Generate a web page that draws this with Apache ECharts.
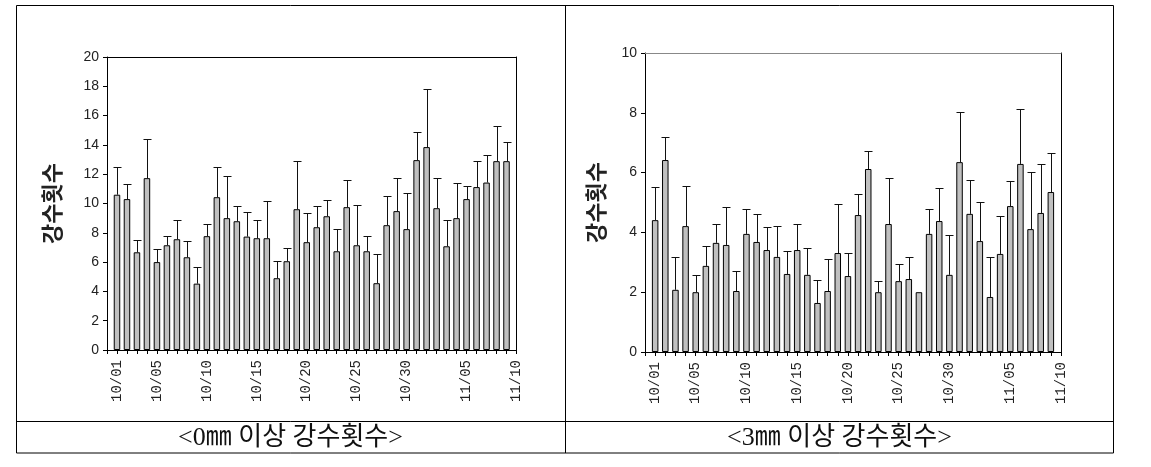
<!DOCTYPE html>
<html><head><meta charset="utf-8">
<script src="https://cdn.jsdelivr.net/npm/echarts@6/dist/echarts.min.js"></script>
<style>html,body{margin:0;padding:0;background:#fff}#c{width:1151px;height:467px}</style>
</head><body><div id="c"></div>
<script>
// ---- data ----
const dates = ['10/01','10/02','10/03','10/04','10/05','10/06','10/07','10/08','10/09','10/10',
  '10/11','10/12','10/13','10/14','10/15','10/16','10/17','10/18','10/19','10/20',
  '10/21','10/22','10/23','10/24','10/25','10/26','10/27','10/28','10/29','10/30',
  '10/31','11/01','11/02','11/03','11/04','11/05','11/06','11/07','11/08','11/09'];
const axisEnd = '11/10';
const tickLabels = ['10/01','10/05','10/10','10/15','10/20','10/25','10/30','11/05','11/10'];

// 0mm 이상 강수횟수 (mean, upper end of error bar)
const mean0 = [10.6,10.3,6.67,11.73,6.0,7.15,7.56,6.33,4.53,7.77,
  10.43,9.0,8.79,7.74,7.63,7.63,4.9,6.06,9.61,7.36,
  8.38,9.13,6.74,9.75,7.15,6.74,4.56,8.52,9.48,8.25,
  12.96,13.85,9.68,7.08,9.0,10.3,11.12,11.43,12.89,12.89];
const upper0 = [12.5,11.3,7.5,14.4,6.9,7.75,8.86,7.43,5.65,8.59,
  12.48,11.87,9.82,9.41,8.86,10.16,6.06,6.95,12.89,9.34,
  9.82,10.23,8.25,11.6,9.89,7.77,6.54,10.5,11.73,10.7,
  14.87,17.81,11.73,8.86,11.39,11.18,12.89,13.3,15.28,14.19];

// 3mm 이상 강수횟수
const mean3 = [4.41,6.42,2.08,4.21,2.0,2.88,3.65,3.58,2.04,3.95,
  3.68,3.41,3.18,2.61,3.41,2.58,1.64,2.04,3.31,2.54,
  4.58,6.12,2.0,4.28,2.37,2.44,2.0,3.95,4.38,2.58,
  6.35,4.62,3.71,1.84,3.28,4.88,6.29,4.11,4.65,5.35];
const upper3 = [5.53,7.18,3.18,5.54,2.58,3.55,4.28,4.85,2.71,4.78,
  4.62,4.18,4.21,3.38,4.28,3.48,2.41,3.11,4.95,3.31,
  5.28,6.72,2.37,5.82,2.94,3.18,2.0,4.78,5.48,3.91,
  8.03,5.75,5.02,3.18,4.55,5.72,8.13,6.02,6.29,6.66];

const yRange0 = {min: 0, max: 20, interval: 2};
const yRange3 = {min: 0, max: 10, interval: 2};
const yName = '강수횟수';
const titles = ['<0㎜ 이상 강수횟수>', '<3㎜ 이상 강수횟수>'];

// ---- chart ----
const cats = [''].concat(dates, [axisEnd]);
const chart = echarts.init(document.getElementById('c'), null, {renderer: 'canvas'});

function bottomAxis(gi) {
  return {
    type: 'category', gridIndex: gi, data: cats, boundaryGap: false, position: 'bottom',
    axisLine: {show: true, onZero: false, lineStyle: {color: '#000', width: 1}},
    axisTick: {show: true, interval: 0, length: 4, lineStyle: {color: '#000'}},
    axisLabel: {
      interval: (idx, val) => tickLabels.indexOf(val) >= 0,
      rotate: 90, margin: 10, fontFamily: 'Liberation Mono', fontSize: 14, color: '#222'
    },
    splitLine: {show: false}
  };
}
function topAxis(gi, color) {
  return {
    type: 'category', gridIndex: gi, data: cats, boundaryGap: false, position: 'top',
    axisLine: {show: true, onZero: false, lineStyle: {color: color, width: 1}},
    axisTick: {show: false}, axisLabel: {show: false}, splitLine: {show: false}
  };
}
function leftAxis(gi, r, gap) {
  return {
    type: 'value', gridIndex: gi, min: r.min, max: r.max, interval: r.interval, position: 'left',
    axisLine: {show: true, onZero: false, lineStyle: {color: '#000', width: 1}},
    axisTick: {show: true, length: 4, lineStyle: {color: '#000'}},
    axisLabel: {fontFamily: 'Liberation Sans', fontSize: 14, color: '#222', margin: 8},
    splitLine: {show: false},
    name: yName, nameLocation: 'middle', nameGap: gap,
    nameTextStyle: {fontFamily: 'Noto Sans CJK KR', fontSize: 22, fontWeight: 'bold', color: '#222'}
  };
}
function rightAxis(gi, r) {
  return {
    type: 'value', gridIndex: gi, min: r.min, max: r.max, interval: r.interval, position: 'right',
    axisLine: {show: true, onZero: false, lineStyle: {color: '#000', width: 1}},
    axisTick: {show: false}, axisLabel: {show: false}, splitLine: {show: false}
  };
}
function errRender(params, api) {
  const x = api.value(0), lo = api.value(1), hi = api.value(2);
  if (!(hi > lo)) return null;
  const p0 = api.coord([x, lo]);
  const p1 = api.coord([x, hi]);
  const cx = Math.round(p0[0]) + 0.5;
  const ty = Math.round(p1[1]) + 0.5;
  return {
    type: 'group', children: [
      {type: 'line', shape: {x1: cx, y1: p0[1], x2: cx, y2: ty}, style: {stroke: '#111', lineWidth: 1}},
      {type: 'line', shape: {x1: cx - 4, y1: ty, x2: cx + 4, y2: ty}, style: {stroke: '#111', lineWidth: 1}}
    ]
  };
}
function barData(m) { return [null].concat(m, [null]); }
function errData(m, u) { return m.map((v, i) => [i + 1, v, u[i]]); }

const titleFont = '26px "Liberation Serif", "Noto Sans CJK KR"';
const option = {
  animation: false,
  backgroundColor: '#fff',
  grid: [
    {left: 107, top: 57, width: 409.5, height: 293},
    {left: 645, top: 53, width: 416, height: 299}
  ],
  xAxis: [bottomAxis(0), bottomAxis(1), topAxis(0, '#000'), topAxis(1, '#888')],
  yAxis: [leftAxis(0, yRange0, 44), leftAxis(1, yRange3, 38), rightAxis(0, yRange0), rightAxis(1, yRange3)],
  series: [
    {type: 'bar', xAxisIndex: 0, yAxisIndex: 0, data: barData(mean0), barWidth: 6.5,
      itemStyle: {color: '#c0c0c0', borderColor: '#000', borderWidth: 1}},
    {type: 'bar', xAxisIndex: 1, yAxisIndex: 1, data: barData(mean3), barWidth: 6.5,
      itemStyle: {color: '#c0c0c0', borderColor: '#000', borderWidth: 1}},
    {type: 'custom', xAxisIndex: 0, yAxisIndex: 0, data: errData(mean0, upper0), renderItem: errRender, z: 5},
    {type: 'custom', xAxisIndex: 1, yAxisIndex: 1, data: errData(mean3, upper3), renderItem: errRender, z: 5}
  ],
  graphic: [
    {type: 'rect', shape: {x: 16.5, y: 5.5, width: 1097, height: 447.5}, style: {fill: null, stroke: '#000', lineWidth: 1}},
    {type: 'line', shape: {x1: 565.5, y1: 5.5, x2: 565.5, y2: 453}, style: {stroke: '#000', lineWidth: 1}},
    {type: 'line', shape: {x1: 16.5, y1: 421.5, x2: 1113.5, y2: 421.5}, style: {stroke: '#000', lineWidth: 1}},
    {type: 'text', x: 290.5, y: 438, style: {text: titles[0], font: titleFont, fill: '#111', align: 'center', verticalAlign: 'middle', textAlign: 'center', textVerticalAlign: 'middle'}},
    {type: 'text', x: 839.5, y: 438, style: {text: titles[1], font: titleFont, fill: '#111', align: 'center', verticalAlign: 'middle', textAlign: 'center', textVerticalAlign: 'middle'}}
  ]
};
chart.setOption(option);
</script>
</body></html>
